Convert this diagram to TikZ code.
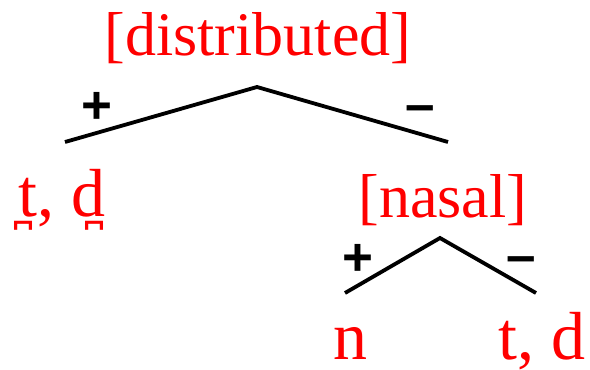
\documentclass[tikz,border=0pt]{standalone}
\usepackage{fontspec}
\setmainfont{Liberation Serif}
\newfontfamily\signfont{Liberation Sans}
\usepackage{tikz}
\usetikzlibrary{positioning}
\definecolor{featred}{RGB}{255,0,0}
% letter with a bridge below, placed by hand
\newcommand\bridged[2][0pt]{\setbox0\hbox{#2}\copy0\llap{\hbox to\wd0{\hss\kern#1\raisebox{-3pt}{\fontsize{50}{50}\selectfont\char"032A}\hss}}}

\begin{document}
\begin{tikzpicture}[x=1pt, y=-1pt,
    feat/.style={text=featred, inner sep=0pt, anchor=base, font=\fontsize{62}{62}\selectfont},
    seg/.style={feat, font=\fontsize{68}{68}\selectfont},
    sign/.style={inner sep=0pt, font=\signfont\bfseries\fontsize{53}{53}\selectfont},
    branch/.style={line width=3.8pt}]
    \useasboundingbox (0,0) rectangle (590,370);

    % upper tree
    \node[feat] (dist) at (258,55) {[distributed]};
    \coordinate (top) at (257,87);
    \coordinate (topl) at (65,142);
    \coordinate (topr) at (448,142);
    \node[sign] (plusa) at (97,108) {+};
    \node[sign] (minusa) at (420,114) {–};
    \node[seg] (dent) at (62,216) {\bridged[-10pt]{t}, \bridged[12pt]{d}};

    % lower tree
    \node[feat] (nas) at (443,217) {[nasal]};
    \coordinate (mid) at (440,238);
    \coordinate (midl) at (345,293);
    \coordinate (midr) at (536,293);
    \node[sign] (plusb) at (358,260) {+};
    \node[sign] (minusb) at (521,265) {–};
    \node[seg] (nasn) at (350,359) {n};
    \node[seg] (alv) at (542,359) {t, d};

    \draw[branch] (topl) -- (top) -- (topr);
    \draw[branch] (midl) -- (mid) -- (midr);
\end{tikzpicture}
\end{document}
